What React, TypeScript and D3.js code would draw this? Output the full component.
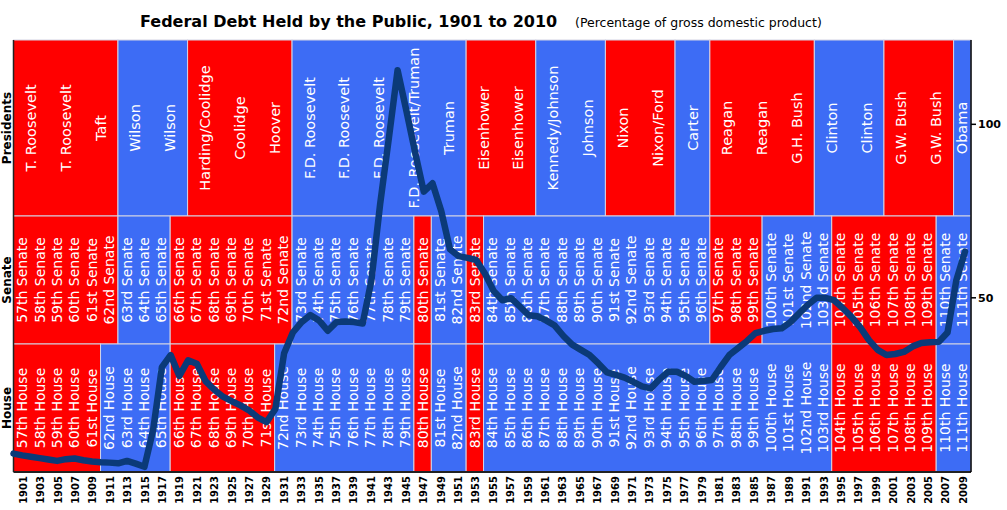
import * as d3 from 'd3'

// congresses 57th..111th, two years each from 1901
const congresses = d3.range(57, 112)

const senateMajority = [
  'R', 'R', 'R', 'R', 'R', 'R', // 57-62
  'D', 'D', 'D', // 63-65
  'R', 'R', 'R', 'R', 'R', 'R', 'R', // 66-72
  'D', 'D', 'D', 'D', 'D', 'D', 'D', // 73-79
  'R', // 80
  'D', 'D', // 81-82
  'R', // 83
  'D', 'D', 'D', 'D', 'D', 'D', 'D', 'D', 'D', 'D', 'D', 'D', 'D', // 84-96
  'R', 'R', 'R', // 97-99
  'D', 'D', 'D', 'D', // 100-103
  'R', 'R', 'R', 'R', 'R', 'R', // 104-109
  'D', 'D' // 110-111
]

const houseMajority = [
  'R', 'R', 'R', 'R', 'R', // 57-61
  'D', 'D', 'D', 'D', // 62-65
  'R', 'R', 'R', 'R', 'R', 'R', // 66-71
  'D', 'D', 'D', 'D', 'D', 'D', 'D', 'D', // 72-79
  'R', // 80
  'D', 'D', // 81-82
  'R', // 83
  'D', 'D', 'D', 'D', 'D', 'D', 'D', 'D', 'D', 'D', // 84-93
  'D', 'D', 'D', 'D', 'D', 'D', 'D', 'D', 'D', 'D', // 94-103
  'R', 'R', 'R', 'R', 'R', 'R', // 104-109
  'D', 'D' // 110-111
]

// presidential terms, 4 years each from 1901
const presidents = [
  'T. Roosevelt', 'T. Roosevelt', 'Taft', 'Wilson', 'Wilson', 'Harding/Coolidge',
  'Coolidge', 'Hoover', 'F.D. Roosevelt', 'F.D. Roosevelt', 'F.D. Roosevelt',
  'F.D. Roosevelt/Truman', 'Truman', 'Eisenhower', 'Eisenhower', 'Kennedy/Johnson',
  'Johnson', 'Nixon', 'Nixon/Ford', 'Carter', 'Reagan', 'Reagan', 'G.H. Bush',
  'Clinton', 'Clinton', 'G.W. Bush', 'G.W. Bush', 'Obama'
]
const presidentParty = [
  'R', 'R', 'R', 'D', 'D', 'R', 'R', 'R', 'D', 'D', 'D', 'D', 'D', 'R',
  'R', 'D', 'D', 'R', 'R', 'D', 'R', 'R', 'R', 'D', 'D', 'R', 'R', 'D'
]

// debt held by the public, % of GDP, 1901..2010
const debt = [
  5.1, 4.6, 4.2, 3.8, 3.4, 3.0, 3.5, 3.7, 3.2, 2.8, // 1901-1910
  2.6, 2.5, 2.3, 3.0, 2.2, 1.3, 12.0, 30.0, 33.5, 27.5, // 1911-1920
  32.0, 31.0, 26.0, 23.5, 21.5, 20.2, 19.0, 17.5, 15.5, 14.2, // 1921-1930
  18.0, 34.0, 40.0, 43.0, 45.0, 43.5, 40.5, 43.0, 43.2, 43.0, // 1931-1940
  42.6, 55.0, 77.0, 96.0, 115.6, 104.0, 92.0, 80.6, 83.0, 75.0, // 1941-1950
  64.0, 62.0, 61.5, 60.9, 57.0, 52.0, 49.3, 49.9, 47.5, 45.0, // 1951-1960
  44.7, 43.5, 42.0, 39.0, 36.5, 35.0, 33.5, 31.1, 28.5, 27.8, // 1961-1970
  27.0, 25.8, 24.5, 23.9, 26.5, 28.7, 28.7, 27.5, 25.8, 26.0, // 1971-1980
  26.3, 30.0, 33.5, 35.5, 37.5, 39.8, 40.5, 41.0, 41.2, 43.0, // 1981-1990
  45.5, 48.0, 50.0, 50.0, 49.3, 47.0, 44.5, 41.5, 37.8, 35.0, // 1991-2000
  33.5, 33.8, 34.4, 36.0, 37.0, 37.2, 37.3, 40.0, 55.0, 63.3 // 2001-2010
]

const yTicks = [50, 100]

const RED = '#ff0000'
const BLUE = '#3d6cf5'
const FONT = '"DejaVu Sans", Verdana, sans-serif'

const suffix = (n: number) => {
  const m = n % 100
  if (m >= 11 && m <= 13) return 'th'
  return ({ 1: 'st', 2: 'nd', 3: 'rd' } as Record<number, string>)[n % 10] ?? 'th'
}

type Run = { party: string; from: number; to: number }
function toRuns(parties: string[], start: number, span: number, end: number): Run[] {
  const runs: Run[] = []
  parties.forEach((p, i) => {
    const from = start + i * span
    const to = Math.min(from + span, end)
    const last = runs[runs.length - 1]
    if (last && last.party === p) last.to = to
    else runs.push({ party: p, from, to })
  })
  return runs
}

export default function App() {
  const width = 1007
  const height = 510
  const left = 13.5
  const right = 971
  const top = 40
  const bottom = 472
  const senateTop = 216
  const houseTop = 344

  const x = d3.scaleLinear().domain([1901, 2011]).range([left, right])
  const xLine = d3.scaleLinear().domain([1901, 2010]).range([left, 965])
  const y = d3.scaleLinear().domain([0, 124.3]).range([471.3, top])

  const rows = [
    { name: 'Presidents', y0: top, y1: senateTop, runs: toRuns(presidentParty, 1901, 4, 2011) },
    { name: 'Senate', y0: senateTop, y1: houseTop, runs: toRuns(senateMajority, 1901, 2, 2011) },
    { name: 'House', y0: houseTop, y1: bottom, runs: toRuns(houseMajority, 1901, 2, 2011) }
  ]

  const line = d3
    .line<number>()
    .x((_, i) => xLine(1901 + i))
    .y(d => y(d))

  const yearLabels = congresses.map((_, i) => 1901 + 2 * i)

  return (
    <svg
      width={width}
      height={height}
      style={{ position: 'absolute', left: 0, top: 0, background: '#fff' }}
      fontFamily={FONT}
    >
      <text x={140} y={27} fontSize={16} fontWeight="bold" fill="#000">
        Federal Debt Held by the Public, 1901 to 2010
      </text>
      <text x={575} y={27} fontSize={12.5} fill="#000">
        (Percentage of gross domestic product)
      </text>

      {rows.map(r => (
        <g key={r.name}>
          {r.runs.map(run => (
            <rect
              key={run.from}
              x={x(run.from)}
              y={r.y0}
              width={x(run.to) - x(run.from)}
              height={r.y1 - r.y0}
              fill={run.party === 'R' ? RED : BLUE}
              stroke="#d4d4e4"
              strokeWidth={1}
            />
          ))}
          <text
            transform={`translate(7,${(r.y0 + r.y1) / 2}) rotate(-90)`}
            textAnchor="middle"
            dy="0.35em"
            fontSize={12}
            fontWeight="bold"
            fill="#000"
          >
            {r.name}
          </text>
        </g>
      ))}

      {presidents.map((p, i) => {
        const from = 1901 + 4 * i
        const to = Math.min(from + 4, 2011)
        return (
          <text
            key={i}
            transform={`translate(${(x(from) + x(to)) / 2},${(top + senateTop) / 2}) rotate(-90)`}
            textAnchor="middle"
            dy="0.35em"
            fontSize={14.5}
            fill="#fff"
          >
            {p}
          </text>
        )
      })}

      {congresses.map((c, i) => {
        const cx = x(1902 + 2 * i)
        return (
          <g key={c}>
            <text
              transform={`translate(${cx},${(senateTop + houseTop) / 2}) rotate(-90)`}
              textAnchor="middle"
              dy="0.35em"
              fontSize={14}
              fill="#fff"
            >
              {c + suffix(c) + ' Senate'}
            </text>
            <text
              transform={`translate(${cx},${(houseTop + bottom) / 2}) rotate(-90)`}
              textAnchor="middle"
              dy="0.35em"
              fontSize={14}
              fill="#fff"
            >
              {c + suffix(c) + ' House'}
            </text>
          </g>
        )
      })}

      <line x1={left} x2={left} y1={top} y2={bottom} stroke="#222" strokeWidth={1.5} />
      <line x1={left} x2={right} y1={bottom} y2={bottom} stroke="#222" strokeWidth={2} />

      <path
        d={line(debt) ?? ''}
        fill="none"
        stroke="#0b3a78"
        strokeWidth={6.5}
        strokeLinejoin="round"
        strokeLinecap="round"
      />

      <line x1={right} x2={right} y1={top} y2={bottom} stroke="#000" strokeWidth={1.5} />
      {yTicks.map(t => (
        <g key={t}>
          <line x1={right} x2={right + 5} y1={y(t)} y2={y(t)} stroke="#000" strokeWidth={1.5} />
          <text x={right + 7} y={y(t)} dy="0.35em" fontSize={11} fontWeight="bold" fill="#000">
            {t}
          </text>
        </g>
      ))}

      {yearLabels.map((yr, i) => (
        <text
          key={yr}
          transform={`translate(${x(1902 + 2 * i) + 1},476) rotate(-90)`}
          textAnchor="end"
          dy="0.35em"
          fontSize={10}
          fontWeight="bold"
          fill="#000"
        >
          {yr}
        </text>
      ))}
    </svg>
  )
}
